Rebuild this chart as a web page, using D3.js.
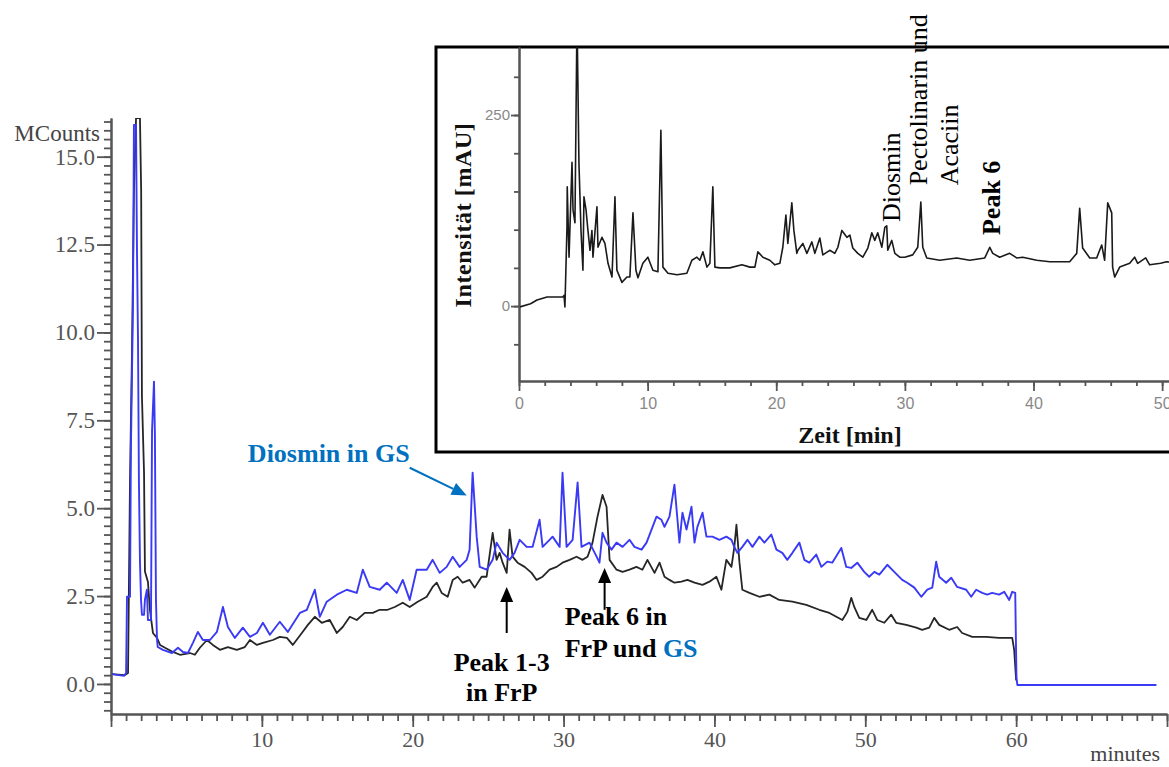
<!DOCTYPE html>
<html>
<head>
<meta charset="utf-8">
<script src="https://cdn.jsdelivr.net/npm/d3@7"></script>
<style>
  body { margin: 0; background: #fff; }
  svg { display: block; }
</style>
</head>
<body>
<div id="chart"></div>
<script>
// main chromatogram (MCounts vs minutes)
var gsTrace = [
  [0.07,0.28],[0.86,0.23],[1.0,0.31],[1.06,2.48],[1.26,2.48],[1.32,6.67],[1.46,10.9],[1.52,15.9],[1.66,15.9],[1.72,12.4],
  [1.79,9.8],[1.85,5.8],[1.92,3.5],[1.99,2.4],[2.05,1.97],[2.19,1.97],[2.25,2.4],[2.38,2.68],[2.45,1.82],[2.65,1.82],
  [2.72,7.2],[2.85,8.6],[2.91,7.1],[2.98,2.4],[3.05,1.25],[3.1,1.05],[3.44,0.97],[4.04,0.88],[4.44,1.03],[4.77,0.91],
  [5.10,0.88],[5.43,1.17],[5.76,1.48],[6.09,1.25],[6.56,1.25],[7.02,1.48],[7.42,2.19],[7.75,1.62],[8.21,1.31],[8.74,1.60],
  [9.21,1.34],[9.67,1.45],[10.07,1.74],[10.53,1.40],[11.19,1.77],[11.72,1.48],[12.52,2.02],[12.98,2.11],[13.51,2.68],[13.84,1.91],
  [14.30,2.34],[14.97,2.54],[15.63,2.68],[16.29,2.59],[16.69,3.25],[17.15,2.76],[17.81,2.68],[18.28,2.88],[18.94,2.59],[19.34,2.96],
  [19.80,2.39],[20.26,3.25],[20.93,3.25],[21.32,3.53],[21.79,3.16],[22.25,3.33],[22.65,3.62],[23.11,3.33],[23.58,3.53],[23.77,3.82],
  [23.97,6.01],[24.24,4.19],[24.44,3.33],[24.90,3.25],[25.30,3.53],[25.56,4.02],[25.96,3.73],[26.42,3.53],[26.75,3.73],[27.09,4.10],
  [27.55,3.90],[27.95,3.90],[28.41,4.67],[28.61,3.90],[29.07,4.10],[29.27,4.19],[29.74,3.90],[29.93,6.01],[30.20,3.90],[30.60,4.10],
  [30.93,5.73],[31.19,3.90],[31.72,4.02],[32.19,3.62],[32.38,3.45],[32.58,4.30],[32.85,4.02],[33.18,3.82],[33.51,4.02],[33.91,3.90],
  [34.37,4.10],[34.70,3.90],[35.17,3.82],[35.50,4.02],[35.83,4.39],[36.16,4.76],[36.49,4.67],[36.69,4.47],[37.02,4.76],[37.35,5.67],
  [37.55,4.67],[37.68,4.02],[37.88,4.87],[38.15,4.39],[38.48,5.04],[38.68,4.02],[38.87,4.47],[39.21,4.87],[39.47,4.19],[39.87,4.19],
  [40.33,4.10],[40.79,4.19],[41.13,4.10],[41.32,3.90],[41.52,3.73],[41.85,3.90],[42.19,4.10],[42.52,3.90],[42.98,4.19],[43.31,4.02],
  [43.77,4.25],[44.11,3.82],[44.50,3.73],[44.83,3.53],[45.17,3.73],[45.63,4.02],[45.96,3.53],[46.29,3.45],[46.75,3.68],[47.09,3.33],
  [47.48,3.48],[47.81,3.45],[48.41,3.87],[48.74,3.33],[49.07,3.30],[49.47,3.45],[49.93,3.19],[50.26,3.05],[50.60,3.19],[50.93,3.11],
  [51.46,3.39],[51.92,3.19],[52.45,2.96],[52.78,2.88],[53.25,2.74],[53.71,2.48],[54.11,2.68],[54.44,2.74],[54.70,3.48],[54.90,3.05],
  [55.36,2.88],[55.70,3.02],[56.09,2.76],[56.69,2.68],[57.02,2.48],[57.35,2.68],[57.75,2.59],[58.08,2.54],[58.41,2.59],[58.87,2.54],
  [59.21,2.62],[59.54,2.39],[59.74,2.62],[59.94,2.59],[60.02,0.2],[60.08,-0.03],[69.3,-0.03]
];

var frpTrace = [
  [0.07,0.28],[0.9,0.25],[1.13,0.31],[1.26,5.8],[1.39,9.4],[1.52,14.0],[1.66,16.1],[1.92,16.1],[2.0,14.0],[2.05,8.2],
  [2.19,6.0],[2.25,3.2],[2.45,2.9],[2.58,2.11],[2.78,1.45],[3.05,1.31],[3.25,1.11],[3.58,1.03],[4.11,0.91],[4.57,0.83],
  [5.23,0.88],[5.56,0.83],[5.89,1.03],[6.36,1.25],[6.75,1.11],[7.22,0.97],[7.75,1.05],[8.34,0.97],[8.87,1.05],[9.21,1.25],
  [9.67,1.11],[10.07,1.17],[10.73,1.25],[11.19,1.34],[11.66,1.31],[12.05,1.11],[12.65,1.45],[13.05,1.68],[13.51,1.91],[13.97,1.74],
  [14.50,1.82],[14.97,1.45],[15.36,1.62],[15.83,1.91],[16.29,1.82],[16.82,2.02],[17.35,2.02],[17.81,2.11],[18.34,2.11],[18.81,2.19],
  [19.34,2.31],[19.80,2.19],[20.33,2.34],[20.93,2.48],[21.32,2.76],[21.59,2.88],[21.92,2.59],[22.32,2.48],[22.65,2.96],[22.98,3.05],
  [23.31,2.88],[23.77,2.96],[24.11,2.74],[24.57,3.05],[24.90,3.05],[25.30,4.30],[25.56,3.53],[25.76,3.73],[25.96,3.45],[26.23,3.16],
  [26.42,4.39],[26.62,3.62],[26.95,3.45],[27.42,3.33],[27.88,3.16],[28.21,2.96],[28.61,3.05],[29.07,3.25],[29.54,3.33],[29.93,3.45],
  [30.40,3.53],[30.86,3.62],[31.26,3.53],[31.59,3.62],[31.92,4.02],[32.25,4.76],[32.58,5.38],[32.85,5.04],[33.05,3.53],[33.51,3.25],
  [33.91,3.19],[34.37,3.25],[34.83,3.33],[35.23,3.25],[35.56,3.53],[36.03,3.16],[36.36,3.45],[36.69,3.05],[37.02,2.96],[37.35,2.88],
  [37.81,2.91],[38.21,2.96],[38.68,2.88],[39.21,2.82],[39.67,2.91],[40.13,3.05],[40.46,2.68],[40.79,3.53],[41.13,3.33],[41.32,3.90],
  [41.46,4.53],[41.66,3.45],[41.85,2.68],[42.32,2.59],[42.98,2.48],[43.64,2.54],[44.30,2.39],[45.17,2.34],[46.09,2.25],[46.95,2.11],
  [47.62,2.02],[48.48,1.82],[48.81,2.05],[49.07,2.45],[49.27,2.19],[49.60,1.88],[50.07,1.82],[50.46,2.11],[50.79,1.82],[51.26,1.74],
  [51.72,1.97],[52.05,1.74],[52.72,1.68],[53.38,1.60],[53.77,1.54],[54.24,1.60],[54.57,1.88],[54.90,1.68],[55.56,1.54],[56.09,1.62],
  [56.42,1.45],[57.09,1.34],[58.01,1.34],[58.87,1.31],[59.74,1.31],[59.87,0.97],[60.0,0.1]
];

// inset UV trace (mAU vs min)
var uvTrace = [
  [0.08,-1],[0.9,3],[1.40,8],[2.18,12],[3.40,12],[3.50,14],[3.57,-1],[3.73,103],[3.75,156],[3.89,64],
  [4.12,188],[4.20,126],[4.35,109],[4.51,380],[4.66,187],[4.82,99],[4.97,47],[5.05,143],[5.21,126],[5.36,99],
  [5.52,73],[5.67,99],[5.75,64],[6.06,130],[6.14,77],[6.45,90],[6.68,82],[6.92,56],[7.23,38],[7.46,143],
  [7.61,47],[8.00,31],[8.39,38],[8.62,38],[8.86,122],[9.09,47],[9.25,37],[9.63,56],[10.02,64],[10.41,47],
  [10.80,45],[11.03,230],[11.19,51],[11.58,43],[12.28,41],[13.05,43],[13.44,60],[13.83,64],[14.06,60],[14.30,71],
  [14.61,51],[14.84,56],[15.07,156],[15.23,51],[15.62,50],[16.39,50],[17.33,54],[17.95,51],[18.34,51],[18.57,71],
  [18.96,64],[19.50,60],[19.89,54],[20.28,56],[20.51,77],[20.75,119],[20.90,82],[21.21,135],[21.37,99],[21.60,69],
  [21.68,73],[22.07,82],[22.38,69],[22.77,84],[23.00,69],[23.39,89],[23.62,67],[24.16,73],[24.55,69],[24.79,77],
  [25.10,99],[25.49,90],[25.72,93],[25.95,76],[26.34,69],[26.73,64],[27.12,76],[27.43,96],[27.66,86],[27.89,96],
  [28.21,77],[28.44,103],[28.59,105],[28.67,73],[28.98,86],[29.22,69],[29.60,64],[29.99,64],[30.61,67],[31.00,77],
  [31.24,136],[31.39,77],[31.70,63],[32.71,60],[34.03,63],[35.04,60],[36.21,63],[36.60,77],[36.83,69],[37.37,64],
  [38.15,69],[38.69,63],[39.16,64],[40.25,60],[41.26,58],[42.81,58],[43.36,69],[43.59,128],[43.82,76],[44.37,63],
  [44.91,63],[45.30,80],[45.53,60],[45.77,135],[46.08,122],[46.15,51],[46.31,38],[46.70,51],[47.48,56],[47.86,64],
  [48.10,56],[48.72,63],[49.03,54],[49.88,56],[50.35,58],[51,57]
];

var mainYTicks = [0, 2.5, 5, 7.5, 10, 12.5, 15];
var mainXTicks = [0, 10, 20, 30, 40, 50, 60, 70];
var insetXTicks = [0, 10, 20, 30, 40, 50];
var insetYTicks = [0, 250];

// annotations, anchored in data units
var mainArrows = [
  {color: "#0070c0", from: [19.8, 6.15], to: [23.58, 5.36]},
  {color: "#000", from: [26.23, 1.45], to: [26.23, 2.76]},
  {color: "#000", from: [32.72, 2.11], to: [32.72, 3.30]}
];
var mainLabels = [
  {parts: [["Diosmin in GS", "#0070c0"]], t: 19.8, v: 6.32, anchor: "end"},
  {parts: [["Peak 1-3", "#000"]], t: 25.9, v: 0.37, anchor: "middle"},
  {parts: [["in FrP", "#000"]], t: 25.9, v: -0.48, anchor: "middle"},
  {parts: [["Peak 6 in", "#000"]], t: 30.07, v: 1.68, anchor: "start"},
  {parts: [["FrP und ", "#000"], ["GS", "#0070c0"]], t: 30.07, v: 0.77, anchor: "start"}
];
var insetLabels = [
  {text: "Diosmin", t: 29.63, v: 110, weight: "normal"},
  {text: "Pectolinarin und", t: 31.73, v: 158, weight: "normal"},
  {text: "Acaciin", t: 34.14, v: 158, weight: "normal"},
  {text: "Peak 6", t: 37.4, v: 93, weight: "bold"}
];

var w = 1169,
    h = 767,
    serif = "'Liberation Serif','Times New Roman',serif",
    narrow = "'Liberation Sans Narrow','Liberation Sans',Arial,sans-serif";

var svg = d3.select("#chart")
  .append("svg")
  .attr("width", w)
  .attr("height", h);

var x = d3.scaleLinear().domain([0, 70]).range([111, 1167]);
var y = d3.scaleLinear().domain([-0.855, 16.1]).range([714, 118]);

var defs = svg.append("defs");
defs.append("clipPath").attr("id", "mainClip")
  .append("rect").attr("x", 111).attr("y", 118).attr("width", 1056).attr("height", 596);

function styleAxis(g, col, fs, fam) {
  g.select(".domain").attr("stroke", col).attr("stroke-width", 2);
  g.selectAll(".tick line").attr("stroke", col).attr("stroke-width", 1.8);
  g.selectAll(".tick text").attr("fill", col).style("font-size", fs).style("font-family", fam);
}

// main y axis
svg.append("g")
  .attr("transform", "translate(111,0)")
  .call(d3.axisLeft(y).tickValues(d3.range(-0.75, 16.01, 0.25)).tickSize(7).tickSizeOuter(0).tickFormat(""))
  .call(styleAxis, "#555", "23px", serif);
svg.append("g")
  .attr("transform", "translate(111,0)")
  .call(d3.axisLeft(y).tickValues(mainYTicks).tickSize(14).tickSizeOuter(0).tickPadding(2).tickFormat(d3.format(".1f")))
  .call(styleAxis, "#555", "23px", serif);

// main x axis
svg.append("g")
  .attr("transform", "translate(0,714)")
  .call(d3.axisBottom(x).tickValues(d3.range(0, 70.01, 1)).tickSize(7).tickSizeOuter(0).tickFormat(""))
  .call(styleAxis, "#555", "22px", serif);
svg.append("g")
  .attr("transform", "translate(0,714)")
  .call(d3.axisBottom(x).tickValues(mainXTicks).tickSize(13).tickSizeOuter(0).tickPadding(4)
    .tickFormat(function(d) { return d > 0 && d < 70 ? d : ""; }))
  .call(styleAxis, "#555", "22px", serif);

svg.append("text")
  .attr("x", 100).attr("y", 141)
  .attr("text-anchor", "end")
  .style("font-family", serif).style("font-size", "23px").attr("fill", "#444")
  .text("MCounts");
svg.append("text")
  .attr("x", 1160).attr("y", 761)
  .attr("text-anchor", "end")
  .style("font-family", serif).style("font-size", "22px").attr("fill", "#444")
  .text("minutes");

var line = d3.line()
  .x(function(d) { return x(d[0]); })
  .y(function(d) { return y(d[1]); });

var traces = svg.append("g").attr("clip-path", "url(#mainClip)");
traces.append("path").datum(frpTrace)
  .attr("d", line).attr("fill", "none")
  .attr("stroke", "#262626").attr("stroke-width", 1.8).attr("stroke-linejoin", "round");
traces.append("path").datum(gsTrace)
  .attr("d", line).attr("fill", "none")
  .attr("stroke", "#3a3af5").attr("stroke-width", 1.9).attr("stroke-linejoin", "round");

// arrows
mainArrows.forEach(function(a) {
  var x0 = x(a.from[0]), y0 = y(a.from[1]),
      x1 = x(a.to[0]), y1 = y(a.to[1]),
      ang = Math.atan2(y1 - y0, x1 - x0),
      len = 15, half = 6.5,
      bx = x1 - len * Math.cos(ang), by = y1 - len * Math.sin(ang);
  svg.append("line")
    .attr("x1", x0).attr("y1", y0).attr("x2", bx).attr("y2", by)
    .attr("stroke", a.color).attr("stroke-width", 2);
  svg.append("polygon")
    .attr("points", [
      [x1, y1],
      [bx + half * Math.sin(ang), by - half * Math.cos(ang)],
      [bx - half * Math.sin(ang), by + half * Math.cos(ang)]
    ].map(function(p) { return p.join(","); }).join(" "))
    .attr("fill", a.color);
});

mainLabels.forEach(function(l) {
  var t = svg.append("text")
    .attr("x", x(l.t)).attr("y", y(l.v))
    .attr("text-anchor", l.anchor)
    .style("font-family", serif).style("font-size", "26px").style("font-weight", "bold");
  l.parts.forEach(function(p) {
    t.append("tspan").attr("fill", p[1]).text(p[0]);
  });
});

// inset
var xi = d3.scaleLinear().domain([0, 51]).range([519, 1175]);
var yi = d3.scaleLinear().domain([-98, 339]).range([381, 47]);

defs.append("clipPath").attr("id", "insetClip")
  .append("rect").attr("x", 519).attr("y", 47).attr("width", 660).attr("height", 334);

var inset = svg.append("g");
inset.append("rect")
  .attr("x", 436).attr("y", 47).attr("width", 760).attr("height", 405)
  .attr("fill", "#fff").attr("stroke", "#000").attr("stroke-width", 3);

inset.append("g")
  .attr("transform", "translate(519,0)")
  .call(d3.axisLeft(yi).tickValues(d3.range(-50, 301, 50)).tickSize(5).tickSizeOuter(0).tickFormat(""))
  .call(styleAxis, "#555", "15px", narrow);
inset.append("g")
  .attr("transform", "translate(519,0)")
  .call(d3.axisLeft(yi).tickValues(insetYTicks).tickSize(8).tickSizeOuter(0).tickPadding(1))
  .call(styleAxis, "#555", "15px", narrow)
  .selectAll(".tick text").attr("fill", "#888");

inset.append("g")
  .attr("transform", "translate(0,381)")
  .call(d3.axisBottom(xi).tickValues(d3.range(0, 51, 2)).tickSize(5).tickSizeOuter(0).tickFormat(""))
  .call(styleAxis, "#555", "16px", narrow);
inset.append("g")
  .attr("transform", "translate(0,381)")
  .call(d3.axisBottom(xi).tickValues(insetXTicks).tickSize(10).tickSizeOuter(0).tickPadding(7))
  .call(styleAxis, "#555", "16px", narrow)
  .selectAll(".tick text").attr("fill", "#888");

var lineI = d3.line()
  .x(function(d) { return xi(d[0]); })
  .y(function(d) { return yi(d[1]); });

inset.append("g").attr("clip-path", "url(#insetClip)")
  .append("path").datum(uvTrace)
  .attr("d", lineI).attr("fill", "none")
  .attr("stroke", "#1a1a1a").attr("stroke-width", 1.6).attr("stroke-linejoin", "round");

inset.append("text")
  .attr("transform", "translate(471,215) rotate(-90)")
  .attr("text-anchor", "middle")
  .style("font-family", serif).style("font-size", "24px").style("font-weight", "bold")
  .style("letter-spacing", "0.6px")
  .attr("fill", "#111")
  .text("Intensität [mAU]");
inset.append("text")
  .attr("x", 850).attr("y", 443)
  .attr("text-anchor", "middle")
  .style("font-family", serif).style("font-size", "24px").style("font-weight", "bold")
  .attr("fill", "#111")
  .text("Zeit [min]");

insetLabels.forEach(function(l) {
  svg.append("text")
    .attr("transform", "translate(" + xi(l.t) + "," + yi(l.v) + ") rotate(-90)")
    .attr("text-anchor", "start")
    .style("font-family", serif).style("font-size", "26px").style("font-weight", l.weight)
    .attr("fill", "#000")
    .text(l.text);
});
</script>
</body>
</html>
